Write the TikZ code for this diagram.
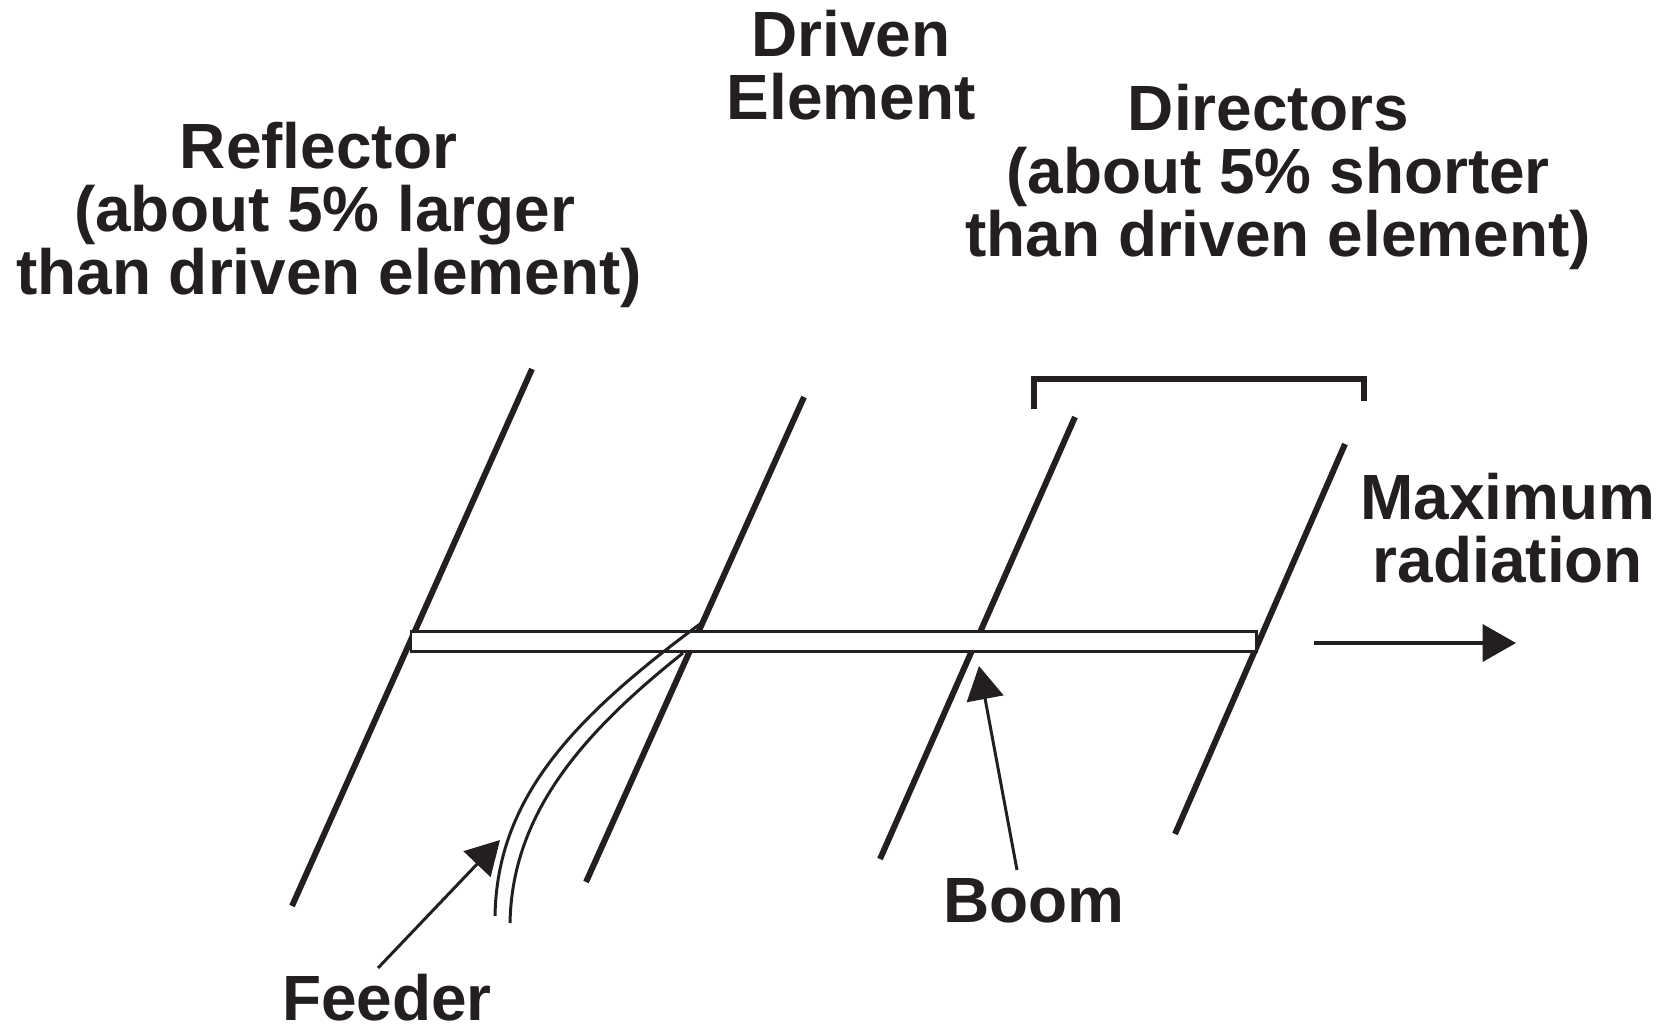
\documentclass[tikz,border=0pt]{standalone}
\usepackage{fontspec}
\setmainfont{Liberation Sans}
\usetikzlibrary{arrows.meta}
\definecolor{ink}{HTML}{231F20}
\tikzset{
  elem/.style={draw=ink,line width=3.4pt},
  thin wire/.style={draw=ink,line width=1.7pt},
  callout/.style={draw=ink,line width=1.7pt,-{Triangle[length=19pt,width=21pt]}},
  lbl/.style={text=ink,align=center,inner sep=0pt,font=\fontsize{36.4}{35.9}\selectfont\bfseries}
}
\begin{document}
\begin{tikzpicture}[x=0.02cm,y=-0.02cm]
\useasboundingbox (0,0) rectangle (1669,1025);
% elements
\coordinate (r1) at (532,369); \coordinate (r2) at (292,906);
\coordinate (d1) at (804,397); \coordinate (d2) at (586,882);
\coordinate (a1) at (1075,417); \coordinate (a2) at (880,859);
\coordinate (b1) at (1345,444); \coordinate (b2) at (1175,834);
\draw[elem] (r1) -- (r2);
\draw[elem] (d1) -- (d2);
\draw[elem] (a1) -- (a2);
\draw[elem] (b1) -- (b2);
% boom
\coordinate (bm1) at (411,631); \coordinate (bm2) at (1256,651);
\draw[thin wire,fill=white] (bm1) rectangle (bm2);
% feeder
\coordinate (f1) at (495,916); \coordinate (f2) at (700,624);
\coordinate (g1) at (510,923); \coordinate (g2) at (683,653);
\draw[thin wire] (f1) .. controls (497,800) and (570,720) .. (f2);
\draw[thin wire] (g1) .. controls (512,815) and (580,735) .. (g2);
% bracket
\coordinate (k1) at (1034,409); \coordinate (k2) at (1034,379);
\coordinate (k3) at (1364,379); \coordinate (k4) at (1364,401);
\draw[draw=ink,line width=3.8pt,miter limit=10] (k1) -- (k2) -- (k3) -- (k4);
% labels
\node[lbl] (reflector) at (329,215) {Reflector\kern12pt\\(about 5\% larger\kern5pt\\than driven element)};
\node[lbl] (driven) at (851,65) {Driven\\Element};
\node[lbl] (directors) at (1278,177) {Directors\kern11pt\\(about 5\% shorter\\than driven element)};
\node[lbl] (maxrad) at (1508,528) {Maximum\\radiation};
\node[lbl] (boomlbl) at (1034,901) {Boom};
\node[lbl] (feederlbl) at (387,998) {Feeder};
% callouts
\coordinate (fa0) at (378,968); \coordinate (fa1) at (500,840);
\coordinate (ba0) at (1017,870); \coordinate (ba1) at (979,666);
\coordinate (ma0) at (1314,643); \coordinate (ma1) at (1516,643);
\draw[callout] (fa0) -- (fa1);
\draw[callout] (ba0) -- (ba1);
\draw[callout,line width=2.3pt] (ma0) -- (ma1);
\end{tikzpicture}
\end{document}
